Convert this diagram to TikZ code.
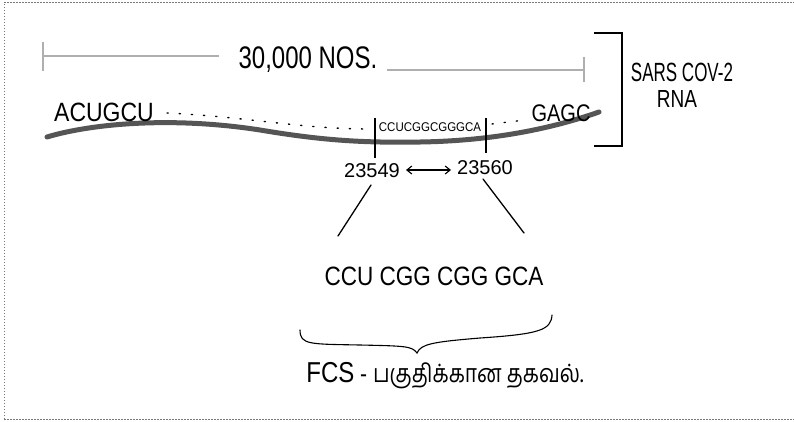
\documentclass[tikz,border=0pt]{standalone}
\usepackage{fontspec}
\setmainfont{Liberation Sans}
\newfontfamily\tamilfont[Script=Tamil]{Hind Madurai}
\usetikzlibrary{arrows.meta}
\definecolor{scalegray}{RGB}{175,175,175}
\definecolor{strandgray}{RGB}{85,85,85}
\definecolor{framegray}{RGB}{120,120,120}
\tikzset{
  hand/.style={inner sep=0pt, text=black, transform shape},
  scalebar/.style={draw=scalegray, line width=2.6pt},
  strand/.style={draw=strandgray, line width=5pt, line cap=round},
  tickline/.style={draw=black, line width=1.2pt},
  ink/.style={draw=black, line width=1.3pt, line cap=round},
  dotline/.style={draw=black, line width=1.4pt, dash pattern=on 1.2pt off 11pt, line cap=round},
  frameline/.style={draw=framegray, line width=0.8pt, dash pattern=on 1.5pt off 1.5pt}
}
\begin{document}
\begin{tikzpicture}[x=1pt,y=-1pt]
\useasboundingbox (0,0) rectangle (794,421);
% frame
\draw[frameline] (4,419) -- (4,2) -- (800,2);
\draw[frameline] (4,419) -- (800,419);
% scale bar
\coordinate (sbL) at (43,56);
\coordinate (sbLm) at (219,56);
\coordinate (sbRm) at (387,70);
\coordinate (sbR) at (584,70);
\draw[scalebar] (sbL) -- (sbLm);
\draw[scalebar] (sbRm) -- (sbR);
\draw[scalebar] (43,42) -- (43,71);
\draw[scalebar] (584,57) -- (584,82);
\node[hand, font=\fontsize{24}{26}\selectfont, yscale=1.3] (len) at (308,60) {30,000 NOS.};
% strand
\draw[strand] (47,137) .. controls (90,124) and (170,116) .. (260,130)
  .. controls (320,140) and (360,143) .. (420,142)
  .. controls (485,141) and (545,131) .. (599,112);
\node[hand, font=\fontsize{23}{25}\selectfont, yscale=1.15] (left) at (104,112) {ACUGCU};
\draw[dotline] (167,113) .. controls (250,117) and (300,129) .. (370,129);
\draw[dotline] (492,124) -- (525,120);
\node[hand, font=\fontsize{20}{22}\selectfont, yscale=1.2] (right) at (561,113) {GAGC};
\node[hand, font=\fontsize{11.5}{13}\selectfont, yscale=1.1] (fcs) at (430,127) {CCUCGGCGGGCA};
% ticks
\coordinate (t1a) at (375,118);
\coordinate (t1b) at (375,158);
\coordinate (t2a) at (486,118);
\coordinate (t2b) at (486,153);
\draw[tickline] (t1a) -- (t1b);
\draw[tickline] (t2a) -- (t2b);
% bracket
\coordinate (b1) at (594,33);
\coordinate (b2) at (622,33);
\coordinate (b3) at (622,146);
\coordinate (b4) at (594,146);
\draw[draw=black, line width=2.2pt] (b1) -- (b2) -- (b3) -- (b4);
\node[hand, font=\fontsize{17}{19}\selectfont, yscale=1.55] (sars) at (682,72) {SARS COV-2};
\node[hand, font=\fontsize{19}{21}\selectfont, yscale=1.3] (rna) at (677,99) {RNA};
% positions
\node[hand, font=\fontsize{20}{22}\selectfont] (p1) at (372,171) {23549};
\node[hand, font=\fontsize{20}{22}\selectfont] (p2) at (485,168) {23560};
\coordinate (a1) at (406,170);
\coordinate (a2) at (451,170);
\draw[ink, {Straight Barb[length=5pt,width=8pt]}-{Straight Barb[length=5pt,width=8pt]}, line width=1.1pt] (a1) -- (a2);
% zoom lines
\coordinate (z1a) at (371,185);
\coordinate (z1b) at (338,236);
\coordinate (z2a) at (483,179);
\coordinate (z2b) at (524,233);
\draw[ink] (z1a) -- (z1b);
\draw[ink] (z2a) -- (z2b);
% codons
\node[hand, font=\fontsize{26.5}{28}\selectfont, xscale=0.85] (cod) at (434,276) {CCU CGG CGG GCA};
% brace
\draw[ink, line width=1.1pt] (300,330) .. controls (300,345) and (310,344) .. (360,345)
  .. controls (405,346) and (412,346) .. (417,353)
  .. controls (421,344) and (432,342) .. (480,338)
  .. controls (540,334) and (551,330) .. (552,315);
\node[hand, font=\fontsize{21}{24}\selectfont, yscale=1.2] (lab) at (445,376) {{\fontsize{24}{26}\selectfont FCS} - {\tamilfont பகுதிக்கான தகவல்.}};
\end{tikzpicture}
\end{document}
